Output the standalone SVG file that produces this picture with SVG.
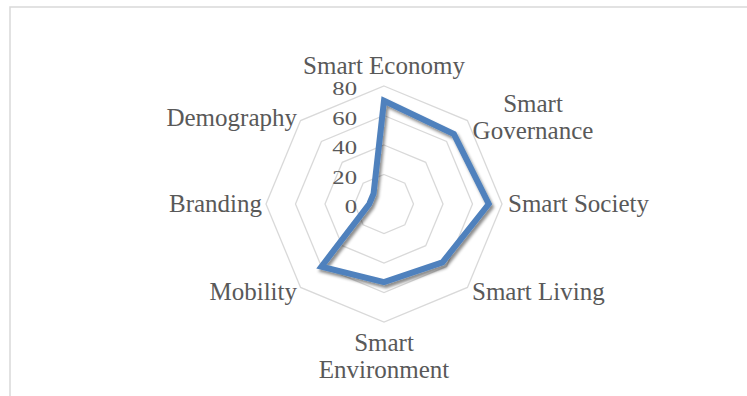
<svg xmlns="http://www.w3.org/2000/svg" width="747" height="396" viewBox="0 0 747 396">
  <style>
    .frame { fill: #ffffff; stroke: #d9d9d9; stroke-width: 1.5; }
    .grid { fill: none; stroke: #d9d9d9; stroke-width: 1.3; }
    .series { fill: none; stroke: #4f81bd; stroke-width: 6; stroke-linejoin: miter; }
    .lbl { font-family: "Liberation Serif", "Times New Roman", serif; font-size: 25px; fill: #595959; }
    .val { font-family: "Liberation Serif", "Times New Roman", serif; font-size: 19px; fill: #595959; text-anchor: end; }
  </style>
  <defs>
    <filter id="shadow" x="-20%" y="-20%" width="140%" height="140%">
      <feDropShadow dx="2" dy="3" stdDeviation="1.5" flood-color="#000000" flood-opacity="0.45"/>
    </filter>
  </defs>
  <rect width="747" height="396" fill="#ffffff"/>
  <rect class="frame" x="10" y="7" width="760" height="420"/>

  <g id="grid">
    <polygon class="grid" points="384,174.5 404.86,183.14 413.5,204 404.86,224.86 384,233.5 363.14,224.86 354.5,204 363.14,183.14"/>
    <polygon class="grid" points="384,145 425.72,162.28 443,204 425.72,245.72 384,263 342.28,245.72 325,204 342.28,162.28"/>
    <polygon class="grid" points="384,115.5 446.58,141.42 472.5,204 446.58,266.58 384,292.5 321.42,266.58 295.5,204 321.42,141.42"/>
    <polygon class="grid" points="384,86 467.44,120.56 502,204 467.44,287.44 384,322 300.56,287.44 266,204 300.56,120.56"/>
  </g>

  <g id="value-axis">
    <text class="val" transform="translate(357,95) scale(1.3,1)">80</text>
    <text class="val" transform="translate(357,124.5) scale(1.3,1)">60</text>
    <text class="val" transform="translate(357,154) scale(1.3,1)">40</text>
    <text class="val" transform="translate(357,183.5) scale(1.3,1)">20</text>
    <text class="val" transform="translate(357,212.5) scale(1.3,1)">0</text>
  </g>

  <g id="series">
    <polygon class="series" filter="url(#shadow)" points="384,100.75 453.88,134.12 488.73,204 442.41,262.41 384,282.18 321.42,266.58 369.25,204 373.57,193.57"/>
  </g>

  <g id="cat-smart-economy"><text class="lbl" x="384" y="74" text-anchor="middle">Smart Economy</text></g>
  <g id="cat-smart-governance">
    <text class="lbl" x="533" y="112" text-anchor="middle">Smart</text>
    <text class="lbl" x="533" y="138.5" text-anchor="middle">Governance</text>
  </g>
  <g id="cat-smart-society"><text class="lbl" x="508" y="212">Smart Society</text></g>
  <g id="cat-smart-living"><text class="lbl" x="472" y="300">Smart Living</text></g>
  <g id="cat-smart-environment">
    <text class="lbl" x="384" y="351" text-anchor="middle">Smart</text>
    <text class="lbl" x="384" y="377.5" text-anchor="middle">Environment</text>
  </g>
  <g id="cat-mobility"><text class="lbl" x="297" y="300" text-anchor="end">Mobility</text></g>
  <g id="cat-branding"><text class="lbl" x="262" y="212" text-anchor="end">Branding</text></g>
  <g id="cat-demography"><text class="lbl" x="297" y="126" text-anchor="end">Demography</text></g>
</svg>
